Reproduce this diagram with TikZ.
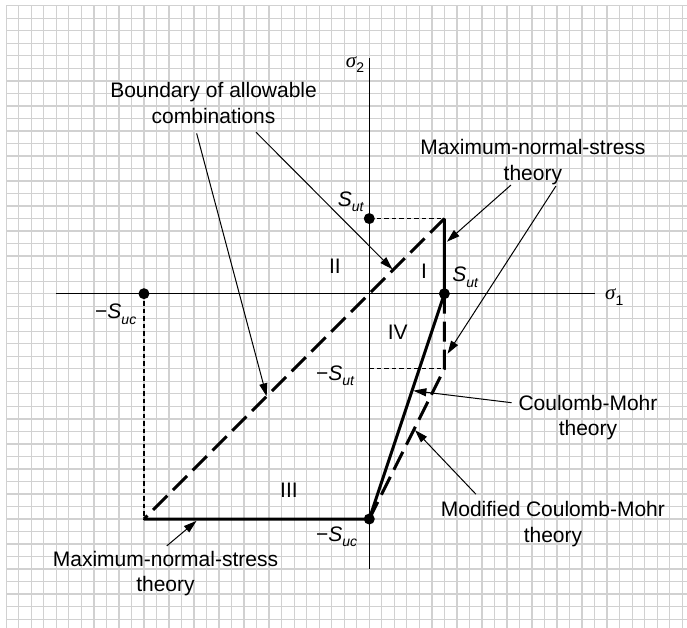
\documentclass[tikz,border=0pt]{standalone}
\usepackage{fontspec}
\setmainfont{Liberation Sans}
\newfontfamily\greekfont{Liberation Serif}
\usetikzlibrary{arrows.meta}
\newcommand{\lowsub}[1]{\raisebox{-0.28em}{\fontsize{14}{14}\selectfont #1}}
\newcommand{\stress}[1]{\textit{S}\lowsub{\textit{#1}}}
\newcommand{\sigmaaxis}[1]{{\greekfont\itshape σ}\lowsub{#1}}

\begin{document}
\begin{tikzpicture}[x=12.52pt, y=12.52pt,
  font=\fontsize{21}{25.5}\selectfont,
  gridline/.style={draw=black!18, line width=1.3pt, step=12.52pt},
  axis/.style={line width=1.1pt},
  bound/.style={line width=3pt},
  bounddash/.style={line width=3pt, dash pattern=on 20pt off 8pt},
  guide/.style={line width=1.1pt, dash pattern=on 4.5pt off 3pt},
  pointer/.style={line width=1pt, -{Triangle[length=13pt,width=8pt]}},
  dot/.style={circle, fill, inner sep=0pt, minimum size=11pt},
  lbl/.style={align=center, inner sep=0pt}]
\useasboundingbox (-29.50,-26.70) rectangle (25.38,23.46);
\draw[gridline] (-29,-26.7) grid (25.38,23);

% axes
\draw[axis] (-25,0) coordinate (xl) -- (18,0) coordinate (xr);
\draw[axis] (0,18.8) coordinate (yt) -- (0,-22) coordinate (yb);
\node[lbl, anchor=base west] (sig1) at (18.83,-0.5) {\sigmaaxis{1}};
\node[lbl, anchor=base west] (sig2) at (-1.88,18.1) {\sigmaaxis{2}};

% corner points
\coordinate (sutx) at (6,0);
\coordinate (suty) at (0,6);
\coordinate (sucx) at (-18,0);
\coordinate (sucy) at (0,-18);
\coordinate (q1) at (6,6);
\coordinate (q4) at (6,-6);
\coordinate (q3) at (-18,-18);
\coordinate (m4) at (0,-6);

\draw[guide] (suty) -- (q1);
\draw[guide] (m4) -- (q4);
\draw[guide] (sucx) -- (q3);

\draw[bounddash] (q1) -- (q3);
\draw[bounddash] (sutx) -- (q4) -- (sucy);
\draw[bound] (q1) -- (sutx) -- (sucy) -- (q3);

\foreach \p in {sutx,suty,sucx,sucy}
  \node[dot] at (\p) {};

% point labels
\node[lbl, anchor=base west] (lsuty) at (-2.52,7.0) {\stress{ut}};
\node[lbl, anchor=base west] (lsutx) at (6.62,0.96) {\stress{ut}};
\node[lbl, anchor=base west] (lsucx) at (-21.91,-1.97) {−\stress{uc}};
\node[lbl, anchor=base west] (lmsut) at (-4.26,-6.9) {−\stress{ut}};
\node[lbl, anchor=base west] (lsucy) at (-4.26,-19.76) {−\stress{uc}};

% regions
\node[lbl, anchor=base] (reg1) at (4.37,1.23) {I};
\node[lbl, anchor=base] (reg2) at (-2.74,1.65) {II};
\node[lbl, anchor=base] (reg3) at (-6.42,-16.3) {III};
\node[lbl, anchor=base] (reg4) at (2.28,-3.64) {IV};

% labels and pointers
\node[lbl, anchor=base] (bnd) at (-12.44,13.63) {Boundary of allowable\\combinations};
\node[lbl, anchor=base] (mnstop) at (13.07,9.08) {Maximum-normal-stress\\theory};
\node[lbl, anchor=base] (cm) at (17.47,-11.36) {Coulomb-Mohr\\theory};
\node[lbl, anchor=base] (mcm) at (14.67,-19.86) {Modified Coulomb-Mohr\\theory};
\node[lbl, anchor=base] (mnsbot) at (-16.28,-23.8) {Maximum-normal-stress\\theory};

\coordinate (bnd-a) at (-13.79,12.8);
\coordinate (bnd-b) at (-9.05,12.9);
\coordinate (mnstop-a) at (11.32,8.68);
\coordinate (mnstop-b) at (14.91,8.60);
\coordinate (cm-a) at (11.37,-8.71);
\coordinate (mcm-a) at (8.52,-16.02);
\coordinate (mnsbot-a) at (-16.18,-20.15);

\coordinate (tip1) at (-8.2,-8.2);
\coordinate (tip2) at (1.85,1.95);
\coordinate (tip3) at (6.2,4.15);
\coordinate (tip4) at (6.25,-4.8);
\coordinate (tip5) at (3.52,-7.75);
\coordinate (tip6) at (3.65,-10.9);
\coordinate (tip7) at (-13.8,-18.15);

\draw[pointer] (bnd-a) -- (tip1);
\draw[pointer] (bnd-b) -- (tip2);
\draw[pointer] (mnstop-a) -- (tip3);
\draw[pointer] (mnstop-b) -- (tip4);
\draw[pointer] (cm-a) -- (tip5);
\draw[pointer] (mcm-a) -- (tip6);
\draw[pointer] (mnsbot-a) -- (tip7);
\end{tikzpicture}
\end{document}
